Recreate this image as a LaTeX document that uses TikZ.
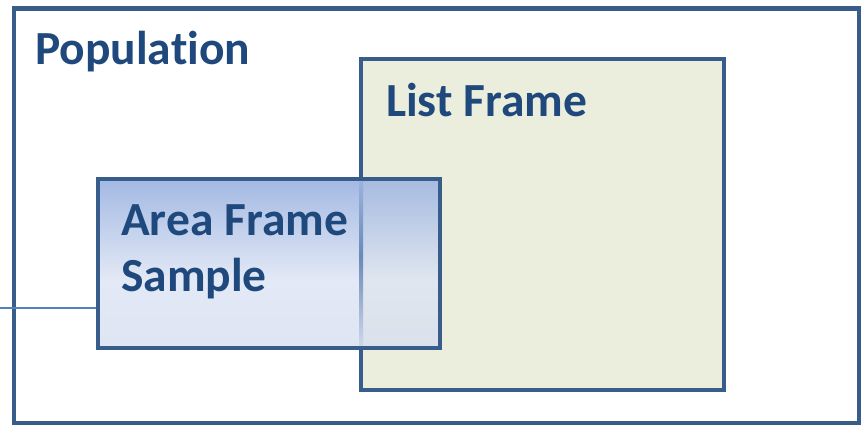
\documentclass[tikz,border=0pt]{standalone}
\usepackage{fontspec}
\setmainfont{Carlito}[Ligatures=NoCommon]
\usetikzlibrary{fit}

\definecolor{edgeblue}{HTML}{385D8A}
\definecolor{textblue}{HTML}{1F497D}
\definecolor{linkblue}{HTML}{4F81BD}
\definecolor{listfill}{HTML}{EBEEDC}
% area box shading over the white background
\definecolor{areatop}{HTML}{A3B9E3}
\definecolor{areamid}{HTML}{E3E9F6}
\definecolor{areabot}{HTML}{DEE5F3}
% area box shading where it overlays the list frame
\definecolor{overtop}{HTML}{A6BBE0}
\definecolor{overmid}{HTML}{DFE6EF}
\definecolor{overbot}{HTML}{DAE1EC}
% list frame edge seen through the area box
\definecolor{edgetop}{HTML}{9DB4DC}
\definecolor{edgemid}{HTML}{6A88B8}
\definecolor{edgebot}{HTML}{D0DAEC}

% vertical shadings: the inner 25bp..75bp band maps onto the filled path
\pgfdeclareverticalshading{areashade}{100bp}{%
  color(0bp)=(areabot); color(25bp)=(areabot); color(45bp)=(areamid);
  color(75bp)=(areatop); color(100bp)=(areatop)}
\pgfdeclareverticalshading{overshade}{100bp}{%
  color(0bp)=(overbot); color(25bp)=(overbot); color(45bp)=(overmid);
  color(75bp)=(overtop); color(100bp)=(overtop)}
\pgfdeclareverticalshading{edgeshade}{100bp}{%
  color(0bp)=(edgebot); color(25bp)=(edgebot); color(52bp)=(edgemid);
  color(75bp)=(edgetop); color(100bp)=(edgetop)}

\tikzset{
  framebox/.style={draw=edgeblue, line width=4.5pt, inner sep=0pt, outer sep=0pt},
  label text/.style={text=textblue, font=\fontsize{47.5}{56}\selectfont\bfseries,
    anchor=base west, inner sep=0pt},
}

\begin{document}
\begin{tikzpicture}[x=1pt, y=-1pt]
  \useasboundingbox (0,0) rectangle (862,425);

  % population frame
  \node[framebox, fit={(14,8.5) (859,423)}] (population) {};
  % list frame
  \node[framebox, fill=listfill, fit={(361,59) (724,390)}] (list) {};

  % connector entering from the left
  \coordinate (feed) at (0,308);

  % area frame sample box (outline drawn last)
  \node[inner sep=0pt, outer sep=0pt, fit={(98,179) (440,348)}] (area) {};
  \draw[linkblue, line width=2.6pt] (feed) -- (feed -| area.west);
  \fill[shading=areashade] (area.south west) rectangle (area.north east);
  \fill[shading=overshade] (area.south west -| list.west) rectangle (area.north east);
  \fill[shading=edgeshade] ([xshift=-2pt]area.south west -| list.west)
    rectangle ([xshift=2pt]area.north west -| list.west);
  \draw[edgeblue, line width=4.5pt] (area.south west) rectangle (area.north east);

  % labels
  \node[label text] (poptext) at (35,65) {Population};
  \node[label text] (listtext) at (386,117) {List Frame};
  \node[label text] (areatext) at (121,235) {Area Frame};
  \node[label text] (sampletext) at (121,291) {Sample};
\end{tikzpicture}
\end{document}
